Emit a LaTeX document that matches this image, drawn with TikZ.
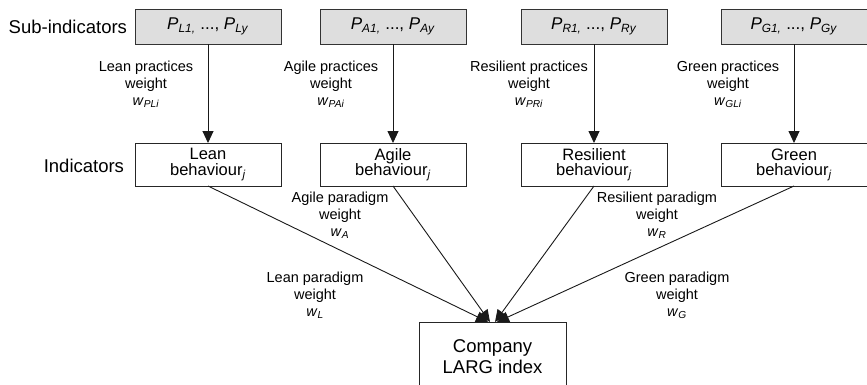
\documentclass[tikz,border=0pt]{standalone}
\usepackage{fontspec}
\setmainfont{Liberation Sans}
\usetikzlibrary{arrows.meta}
\begin{document}
\begin{tikzpicture}[x=1pt,y=-1pt,
  every node/.style={inner sep=0pt, outer sep=0pt},
  subbox/.style={draw=black!80, fill=black!13, line width=0.9pt, minimum width=146pt, minimum height=35pt, font=\fontsize{17}{20}\selectfont},
  indbox/.style={draw=black!85, line width=0.9pt, minimum width=146pt, minimum height=43pt, align=center, font=\fontsize{16.5}{15.5}\selectfont},
  compbox/.style={draw=black!85, line width=0.9pt, minimum width=147pt, minimum height=70pt, align=center, font=\fontsize{18.5}{21}\selectfont},
  rowlbl/.style={font=\fontsize{18.5}{21}\selectfont, anchor=base east},
  lbl/.style={align=center, font=\fontsize{14.5}{17}\selectfont},
  conn/.style={line width=0.9pt, draw=black!90, -{Triangle[length=12pt,width=11pt]}}
]
\useasboundingbox (0,0) rectangle (867,384);

% row labels
\node[rowlbl] (rs) at (127,33) {Sub-indicators};
\node[rowlbl] (ri) at (124,172) {Indicators};

% sub-indicator boxes
\node[subbox] (sL) at (208,26.5) {\textit{P}\textsubscript{\textit{L1,}} ..., \textit{P}\textsubscript{\textit{Ly}}};
\node[subbox] (sA) at (393,26.5) {\textit{P}\textsubscript{\textit{A1,}} ..., \textit{P}\textsubscript{\textit{Ay}}};
\node[subbox] (sR) at (594,26.5) {\textit{P}\textsubscript{\textit{R1,}} ..., \textit{P}\textsubscript{\textit{Ry}}};
\node[subbox] (sG) at (794,26.5) {\textit{P}\textsubscript{\textit{G1,}} ..., \textit{P}\textsubscript{\textit{Gy}}};

% indicator boxes
\node[indbox] (iL) at (208,164.5) {Lean\\behaviour\textsubscript{\textit{j}}};
\node[indbox] (iA) at (393,164.5) {Agile\\behaviour\textsubscript{\textit{j}}};
\node[indbox] (iR) at (594,164.5) {Resilient\\behaviour\textsubscript{\textit{j}}};
\node[indbox] (iG) at (794,164.5) {Green\\behaviour\textsubscript{\textit{j}}};

% company box
\node[compbox] (comp) at (492.5,357) {Company\\LARG index};

% practice weight labels
\node[lbl] (pL) at (146,84) {Lean practices\\weight\\\textit{w}\textsubscript{\textit{PLi}}};
\node[lbl] (pA) at (331,84) {Agile practices\\weight\\\textit{w}\textsubscript{\textit{PAi}}};
\node[lbl] (pR) at (529,84) {Resilient practices\\weight\\\textit{w}\textsubscript{\textit{PRi}}};
\node[lbl] (pG) at (728,84) {Green practices\\weight\\\textit{w}\textsubscript{\textit{GLi}}};

% paradigm weight labels
\node[lbl] (wA) at (340,215) {Agile paradigm\\weight\\\textit{w}\textsubscript{\textit{A}}};
\node[lbl] (wR) at (657,215) {Resilient paradigm\\weight\\\textit{w}\textsubscript{\textit{R}}};
\node[lbl] (wL) at (315,295) {Lean paradigm\\weight\\\textit{w}\textsubscript{\textit{L}}};
\node[lbl] (wG) at (677,295) {Green paradigm\\weight\\\textit{w}\textsubscript{\textit{G}}};

% vertical arrows
\draw[conn] (sL) -- (iL);
\draw[conn] (sA) -- (iA);
\draw[conn] (sR) -- (iR);
\draw[conn] (sG) -- (iG);

% converging arrows
\coordinate (tL) at (488,322);
\coordinate (tA) at (490,322);
\coordinate (tR) at (495,322);
\coordinate (tG) at (497,322);
\draw[conn] (iL.south) -- (tL);
\draw[conn] (iA.south) -- (tA);
\draw[conn] (iR.south) -- (tR);
\draw[conn] (iG.south) -- (tG);
\end{tikzpicture}
\end{document}
